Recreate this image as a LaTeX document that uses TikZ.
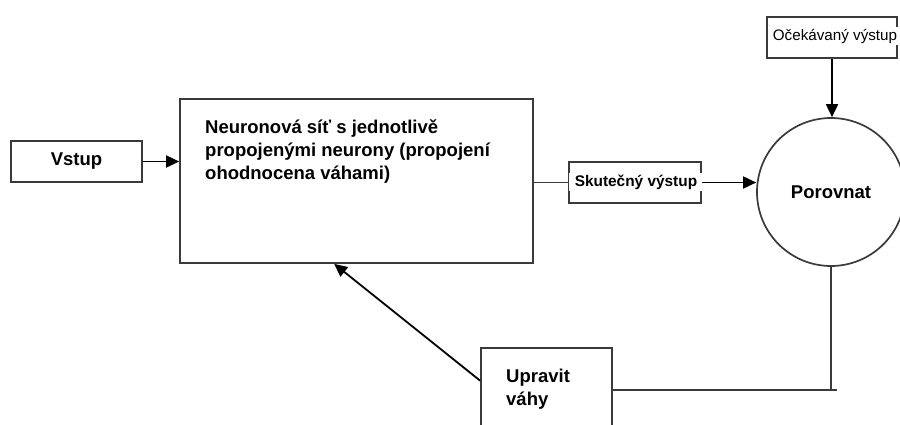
\documentclass[tikz,border=0pt]{standalone}
\usepackage{fontspec}
\setmainfont{Liberation Sans}
\usetikzlibrary{arrows.meta}
\definecolor{edge}{HTML}{3A3A3A}
\begin{document}
\begin{tikzpicture}[x=1pt,y=-1pt,
  box/.style={draw=edge,line width=1.7pt,fill=white,inner sep=0pt},
  bigtxt/.style={font=\fontsize{18.5}{23}\selectfont\bfseries},
  flow/.style={draw=black,line width=1.8pt,-{Triangle[length=13pt,width=12pt]}},
  link/.style={draw=edge,line width=1.7pt}]
\useasboundingbox (0,0) rectangle (900,425);
\clip (0,0) rectangle (900,425);

% input
\node[box,bigtxt,minimum width=131pt,minimum height=41pt] (in) at (76.5,161.5) {Vstup};

% network block with its caption (anchored on the last baseline)
\node[box,minimum width=353pt,minimum height=164pt] (net) at (356.5,181) {};
\node[bigtxt,anchor=base west,align=left,inner sep=0pt] (nettext) at (205,179)
  {Neuronová síť s jednotlivě\\propojenými neurony (propojení\\ohodnocena váhami)};

% actual output
\node[box,minimum width=132pt,minimum height=41pt] (skut) at (635,182.5) {};
\node[fill=white,inner xsep=6pt,inner ysep=2pt,font=\fontsize{15.4}{18}\selectfont\bfseries] (skuttext) at (636,182) {Skutečný výstup};

% expected output
\node[box,minimum width=130pt,minimum height=41pt] (exp) at (832,37.5) {};
\node[fill=white,inner xsep=5pt,inner ysep=2pt,font=\fontsize{15.2}{18}\selectfont] (exptext) at (835,36) {Očekávaný výstup};

% comparison
\node[box,circle,minimum size=148pt,bigtxt] (cmp) at (831,192) {Porovnat};

% weight update
\node[box,minimum width=131pt,minimum height=84pt] (upr) at (546.5,390) {};
\node[bigtxt,anchor=base west,align=left,inner sep=0pt] (uprtext) at (506,405) {Upravit\\váhy};

% connectors
\draw[flow] (in.east) -- (in.east -| net.west);
\draw[link] (skut.west) -- (skut.west -| net.east);
\draw[flow] (skut.east) -- (skut.east -| cmp.west);
\draw[flow] (exp.south) -- (exp.south |- cmp.north);
\coordinate (jn) at (cmp.south |- upr.east);
\draw[link] (cmp.south) -- (jn) -- (upr.east);
\coordinate (stub) at ([xshift=6pt]jn);
\draw[link] (jn) -- (stub);
\draw[flow] (upr.172) -- ([xshift=155pt]net.south west);
\end{tikzpicture}
\end{document}
